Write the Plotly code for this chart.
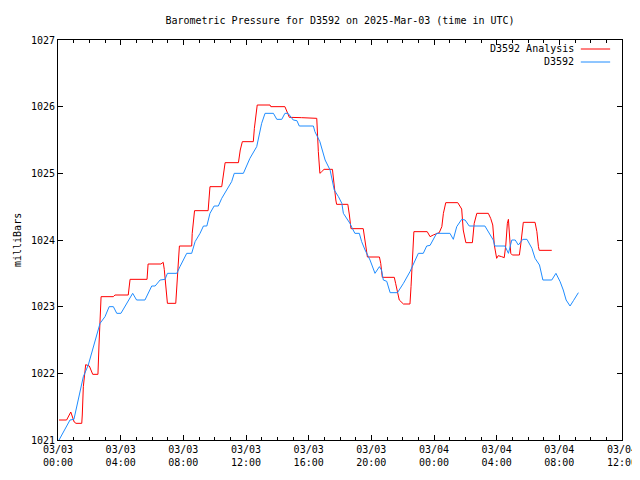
import pandas as pd
import plotly.graph_objects as go

START = pd.Timestamp("2025-03-03 00:00")

# D3592 Analysis (minutes since 2025-03-03 00:00 UTC, millibars)
analysis_min = [4, 33, 49, 62, 69, 91, 93, 97, 106, 120, 133, 153, 157, 161, 165, 212, 218, 269, 276,
                341, 345, 394, 403, 407, 412, 419, 451, 455, 458, 463, 465, 512, 514, 521, 523,
                575, 578, 582, 627, 633, 640, 691, 698, 706, 748, 752, 757, 763, 812, 815, 869,
                876, 886, 933, 991, 997, 1003, 1010, 1019, 1051, 1058, 1064, 1067, 1110, 1116,
                1122, 1169, 1173, 1180, 1185, 1231, 1236, 1242, 1288, 1293, 1300, 1307, 1323,
                1348, 1352, 1357, 1363, 1414, 1425, 1437, 1460, 1470, 1476, 1485, 1531, 1546,
                1552, 1562, 1587, 1594, 1604, 1648, 1657, 1665, 1671, 1680, 1686, 1699, 1709,
                1715, 1721, 1725, 1729, 1734, 1740, 1767, 1772, 1776, 1782, 1827, 1834, 1840,
                1843, 1891]
analysis_val = [1021.30, 1021.30, 1021.42, 1021.27, 1021.25, 1021.25, 1021.375, 1021.80, 1022.13,
                1022.11, 1021.985, 1021.985, 1022.425, 1022.70, 1023.15, 1023.15, 1023.175,
                1023.175, 1023.41, 1023.41, 1023.64, 1023.64, 1023.665, 1023.56, 1023.36,
                1023.05, 1023.05, 1023.375, 1023.60, 1023.79, 1023.91, 1023.91, 1024.10,
                1024.35, 1024.44, 1024.44, 1024.60, 1024.80, 1024.80, 1025.00, 1025.16,
                1025.16, 1025.35, 1025.475, 1025.475, 1025.675, 1025.81, 1026.025, 1026.025,
                1026.00, 1026.00, 1025.925, 1025.84, 1025.835, 1025.825, 1025.325, 1025.00,
                1025.025, 1025.06, 1025.06, 1024.775, 1024.60, 1024.535, 1024.535, 1024.375,
                1024.17, 1024.17, 1024.05, 1023.875, 1023.745, 1023.745, 1023.65, 1023.44,
                1023.44, 1023.35, 1023.20, 1023.10, 1023.04, 1023.04, 1023.30, 1023.70,
                1024.125, 1024.125, 1024.05, 1024.075, 1024.11, 1024.20, 1024.40, 1024.56,
                1024.56, 1024.465, 1024.15, 1023.96, 1023.96, 1024.25, 1024.40, 1024.40,
                1024.325, 1024.225, 1023.925, 1023.725, 1023.765, 1023.75, 1023.735, 1023.925,
                1024.25, 1024.31, 1024.10, 1023.80, 1023.775, 1023.775, 1023.925, 1024.10,
                1024.265, 1024.265, 1024.125, 1023.90, 1023.845, 1023.845]

# D3592 observations
obs_min = [4, 46, 61, 97, 116, 161, 180, 196, 212, 225, 241, 286, 301, 333, 359, 372, 391, 410,
           419, 455, 467, 493, 512, 525, 544, 557, 570, 582, 598, 614, 627, 646, 665, 675, 710,
           735, 761, 780, 793, 825, 838, 857, 869, 881, 901, 915, 924, 978, 984, 1003, 1023,
           1042, 1058, 1074, 1087, 1093, 1106, 1118, 1127, 1137, 1154, 1163, 1176, 1195, 1214,
           1231, 1239, 1246, 1259, 1272, 1300, 1323, 1348, 1363, 1380, 1399, 1412, 1425, 1450,
           1501, 1514, 1527, 1546, 1559, 1575, 1635, 1648, 1667, 1673, 1712, 1725, 1738, 1751,
           1763, 1780, 1796, 1815, 1827, 1844, 1857, 1891, 1907, 1923, 1935, 1946, 1961, 1974,
           1993]
obs_val = [1021.00, 1021.30, 1021.31, 1021.95, 1022.125, 1022.75, 1022.85, 1023.00, 1023.00,
           1022.90, 1022.90, 1023.20, 1023.10, 1023.10, 1023.31, 1023.31, 1023.40, 1023.41,
           1023.50, 1023.50, 1023.60, 1023.80, 1023.80, 1023.975, 1024.10, 1024.21, 1024.21,
           1024.40, 1024.51, 1024.51, 1024.625, 1024.75, 1024.875, 1025.00, 1025.00, 1025.225,
           1025.40, 1025.75, 1025.90, 1025.90, 1025.81, 1025.81, 1025.90, 1025.90, 1025.80,
           1025.79, 1025.71, 1025.71, 1025.625, 1025.475, 1025.20, 1025.05, 1024.75, 1024.65,
           1024.55, 1024.40, 1024.325, 1024.25, 1024.175, 1024.10, 1024.10, 1023.975, 1023.85,
           1023.70, 1023.50, 1023.60, 1023.55, 1023.40, 1023.38, 1023.21, 1023.21, 1023.35,
           1023.525, 1023.65, 1023.80, 1023.80, 1023.91, 1023.92, 1024.10, 1024.10, 1024.01,
           1024.20, 1024.31, 1024.30, 1024.21, 1024.21, 1024.125, 1024.00, 1023.91, 1023.91,
           1023.80, 1024.00, 1024.00, 1023.925, 1024.01, 1024.01, 1023.875, 1023.725, 1023.625,
           1023.40, 1023.40, 1023.50, 1023.375, 1023.25, 1023.10, 1023.01, 1023.09, 1023.21]

series_names = ["D3592 Analysis", "D3592"]
series_colors = ["#ff0000", "#1e8cff"]
y_ticks = [1021, 1022, 1023, 1024, 1025, 1026, 1027]

def to_time(mins):
    return [START + pd.Timedelta(minutes=m) for m in mins]

FONT = "DejaVu Sans Mono"
# page body has an 8px margin; figure sized so the plot box lands at 58..622 x 40..440
W, H = 632, 472
ML, MR, MT, MB = 50, 18, 32, 40

fig = go.Figure()
fig.add_trace(go.Scatter(x=to_time(analysis_min), y=analysis_val, mode="lines",
                         name=series_names[0], line=dict(color=series_colors[0], width=1)))
fig.add_trace(go.Scatter(x=to_time(obs_min), y=obs_val, mode="lines",
                         name=series_names[1], line=dict(color=series_colors[1], width=1)))

# legend in gnuplot style (text right, sample on the right)
for i, (nm, col) in enumerate(zip(series_names, series_colors)):
    yy = 0.9775 - i * 0.0325
    fig.add_annotation(xref="paper", yref="paper", x=0.918, y=yy, text=nm, showarrow=False,
                       xanchor="right", yanchor="middle", font=dict(family=FONT, size=10, color="black"))
    fig.add_shape(type="line", xref="paper", yref="paper", x0=0.927, x1=0.979, y0=yy, y1=yy,
                  line=dict(color=col, width=1))

# y-axis title
fig.add_annotation(xref="paper", yref="paper", x=-41 / 564, y=0.5, text="milliBars",
                   textangle=-90, showarrow=False, xanchor="center", yanchor="middle",
                   font=dict(family=FONT, size=10, color="black"))

fig.update_layout(
    width=W, height=H,
    margin=dict(l=ML, r=MR, t=MT, b=MB, autoexpand=False),
    paper_bgcolor="white", plot_bgcolor="white",
    showlegend=False,
    font=dict(family=FONT, size=10, color="black"),
    title=dict(text="Barometric Pressure for D3592 on 2025-Mar-03 (time in UTC)",
               x=332 / W, xanchor="center", y=1 - 12 / H, yanchor="middle",
               font=dict(family=FONT, size=10, color="black")),
)
fig.update_xaxes(
    type="date", automargin=False,
    range=[START, START + pd.Timedelta(hours=36)],
    dtick=4 * 3600 * 1000, tick0=START,
    tickformat="%m/%d<br>%H:%M",
    ticks="inside", ticklen=5, tickcolor="black",
    minor=dict(dtick=3600 * 1000, ticks="inside", ticklen=3, tickcolor="black", showgrid=False),
    showline=True, linecolor="black", linewidth=1, mirror="ticks",
    showgrid=False, zeroline=False,
    tickfont=dict(family=FONT, size=10),
)
fig.update_yaxes(
    automargin=False,
    range=[1021, 1027], tickvals=y_ticks,
    ticks="inside", ticklen=5, tickcolor="black",
    showline=True, linecolor="black", linewidth=1, mirror="ticks",
    showgrid=False, zeroline=False,
    tickfont=dict(family=FONT, size=10),
)

fig.write_html("out.html")
